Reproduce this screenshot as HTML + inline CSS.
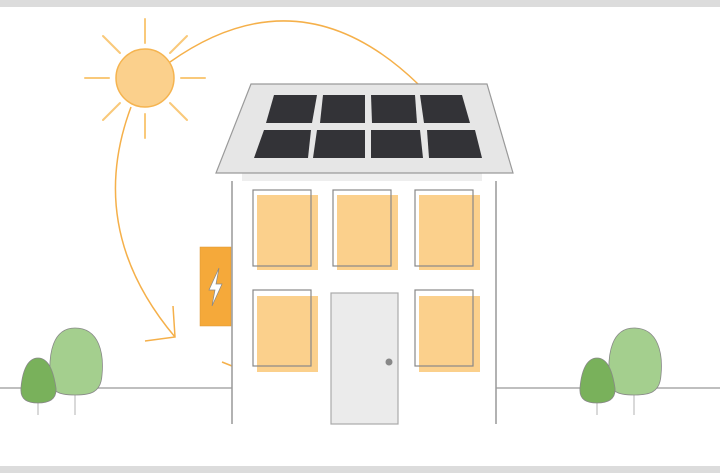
<!DOCTYPE html>
<html><head><meta charset="utf-8"><style>html,body{margin:0;padding:0;background:#fff}svg{display:block}</style></head>
<body>
<svg width="720" height="473" viewBox="0 0 720 473" xmlns="http://www.w3.org/2000/svg">
<rect x="0" y="0" width="720" height="7" fill="#dcdcdc"/>
<rect x="0" y="466" width="720" height="7" fill="#dcdcdc"/>
<!-- ground -->
<line x1="0" y1="388" x2="232" y2="388" stroke="#aaa" stroke-width="1.5"/>
<line x1="496" y1="388" x2="720" y2="388" stroke="#aaa" stroke-width="1.5"/>
<!-- sun rays -->
<g stroke="#f9c97a" stroke-width="2" stroke-linecap="round">
<line x1="145" y1="19" x2="145" y2="43"/><line x1="145" y1="114" x2="145" y2="138"/>
<line x1="85" y1="78" x2="109" y2="78"/><line x1="181" y1="78" x2="205" y2="78"/>
<line x1="103" y1="36" x2="120" y2="53"/><line x1="170" y1="103" x2="187" y2="120"/>
<line x1="187" y1="36" x2="170" y2="53"/><line x1="120" y1="103" x2="103" y2="120"/>
</g>
<circle cx="145" cy="78" r="29" fill="#fbd08c" stroke="#f5b450" stroke-width="1.5"/>
<!-- arcs -->
<g fill="none" stroke="#f5b04a" stroke-width="1.5">
<path d="M170 62 Q 300 -30 418 84"/>
<path d="M131 107 Q 85 230 175 337"/>
<path d="M173 306 L175 337 L145 341"/>
<line x1="222" y1="362" x2="232" y2="366"/>
</g>
<!-- battery -->
<rect x="200" y="247" width="31" height="79" fill="#f5a93a" stroke="#d99530" stroke-width="0.5"/>
<path d="M219 268 L209 290 L215 290 L212 306 L222 284 L216 284 Z" fill="#fff" stroke="#888" stroke-width="0.7"/>
<!-- house -->
<rect x="232" y="178" width="264" height="246" fill="#fff"/>
<line x1="232" y1="181" x2="232" y2="424" stroke="#999" stroke-width="1.5"/>
<line x1="496" y1="181" x2="496" y2="424" stroke="#999" stroke-width="1.5"/>
<rect x="242" y="173" width="240" height="8" fill="#eeeeee"/>
<polygon points="251,84 487,84 513,173 216,173" fill="#e6e6e6" stroke="#9a9a9a" stroke-width="1.2"/>
<g fill="#333337">
<polygon points="274,95 317,95 312,123 266,123"/>
<polygon points="323,95 365,95 365,123 320,123"/>
<polygon points="371,95 415,95 417,123 372,123"/>
<polygon points="420,95 462,95 470,123 424,123"/>
<polygon points="264,130 311,130 308,158 254,158"/>
<polygon points="317,130 365,130 365,158 313,158"/>
<polygon points="371,130 420,130 423,158 371,158"/>
<polygon points="427,130 475,130 482,158 429,158"/>
</g>
<!-- windows -->
<g fill="#fbd08c">
<rect x="257" y="195" width="61" height="75"/><rect x="337" y="195" width="61" height="75"/><rect x="419" y="195" width="61" height="75"/>
<rect x="257" y="296" width="61" height="76"/><rect x="419" y="296" width="61" height="76"/>
</g>
<g fill="none" stroke="#888" stroke-width="1.2">
<rect x="253" y="190" width="58" height="76"/><rect x="333" y="190" width="58" height="76"/><rect x="415" y="190" width="58" height="76"/>
<rect x="253" y="290" width="58" height="76"/><rect x="415" y="290" width="58" height="76"/>
</g>
<rect x="331" y="293" width="67" height="131" fill="#ebebeb" stroke="#aaa" stroke-width="1.2"/>
<circle cx="389" cy="362" r="3.5" fill="#888"/>
<!-- trees -->
<g stroke="#ccc" stroke-width="1.5"><line x1="38" y1="400" x2="38" y2="415"/><line x1="75" y1="393" x2="75" y2="415"/><line x1="597" y1="400" x2="597" y2="415"/><line x1="634" y1="393" x2="634" y2="415"/></g>
<g stroke="#888" stroke-width="0.8">
<path d="M75 328 C100 328 104 355 102 375 C101 393 90 395 75 395 C60 395 50 393 50 375 C49 355 52 328 75 328Z" fill="#a4cf8e"/>
<path d="M38 358 C50 358 54 375 56 388 C57 400 48 403 38 403 C28 403 20 400 21 388 C22 375 26 358 38 358Z" fill="#79b15b"/>
<path d="M634 328 C659 328 663 355 661 375 C660 393 649 395 634 395 C619 395 609 393 609 375 C608 355 611 328 634 328Z" fill="#a4cf8e"/>
<path d="M597 358 C609 358 613 375 615 388 C616 400 607 403 597 403 C587 403 579 400 580 388 C581 375 585 358 597 358Z" fill="#79b15b"/>
</g>
</svg>
</body></html>
